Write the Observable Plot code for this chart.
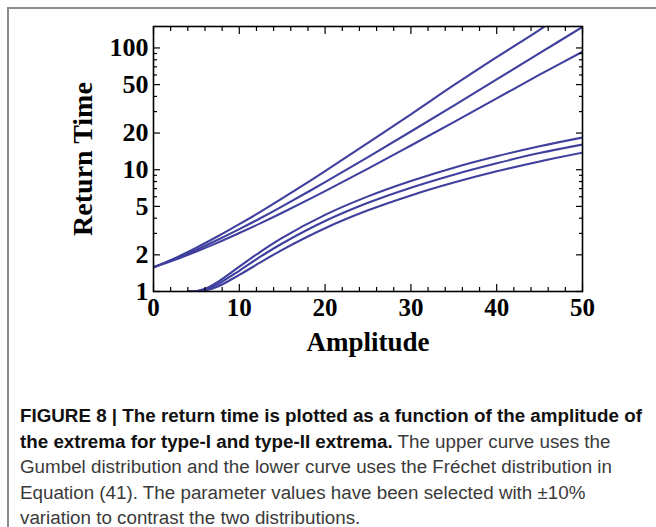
<!DOCTYPE html>
<html>
<head>
<meta charset="utf-8">
<script src="https://cdn.jsdelivr.net/npm/d3@7"></script>
<script src="https://cdn.jsdelivr.net/npm/@observablehq/plot@0.6"></script>
<style>
  html, body { margin: 0; padding: 0; background: #fff; }
  body { width: 656px; height: 527px; overflow: hidden; position: relative; }
  #panel { position: absolute; left: 7px; top: 7px; right: 0; bottom: 0;
           border-top: 2px solid #8c8c8c; border-left: 2px solid #8c8c8c; }
  #chart { position: absolute; left: 0; top: 0; }
  #caption { position: absolute; left: 20px; top: 403px; width: 636px;
             font-family: "Liberation Sans", Arial, sans-serif;
             font-size: 18.8px; line-height: 25.5px; color: #3a3a3a; white-space: nowrap; }
  #caption b { color: #111; }
</style>
</head>
<body>
<div id="panel"></div>
<div id="chart"></div>
<div id="caption"><b>FIGURE 8 | The return time is plotted as a function of the amplitude of<br>the extrema for type-I and type-II extrema.</b> The upper curve uses the<br>Gumbel distribution and the lower curve uses the Fréchet distribution in<br>Equation (41). The parameter values have been selected with ±10%<br>variation to contrast the two distributions.</div>
<script>
// Amplitude samples for the Gumbel (type-I) curves
const amplitude = [0, 2.5, 5, 7.5, 10, 12.5, 15, 20, 25, 30, 35, 40, 45, 50];
// Gumbel return times: scale −10%, nominal, +10% (the first leaves the frame past 45)
const gumbelNarrow = [1.58, 1.88, 2.29, 2.84, 3.57, 4.53, 5.81, 9.74, 16.6, 28.5, 49.4, 84, 141, 245];
const gumbelNominal = [1.58, 1.85, 2.20, 2.66, 3.25, 4.01, 5.00, 7.90, 12.7, 20.6, 33.6, 55.1, 90.5, 149];
const gumbelWide = [1.58, 1.82, 2.13, 2.52, 3.02, 3.64, 4.43, 6.68, 10.2, 15.8, 24.6, 38.5, 60.3, 93];

// Amplitude samples for the Fréchet (type-II) curves
const frechetAmplitude = [4, 5, 6, 7.5, 10, 12.5, 15, 20, 25, 30, 35, 40, 45, 50];
// Fréchet return times: scale −10%, nominal, +10%
const frechetNarrow = [1.0, 1.009, 1.054, 1.20, 1.60, 2.13, 2.76, 4.26, 6.04, 8.08, 10.4, 12.9, 15.6, 18.4];
const frechetNominal = [1.0, 1.005, 1.034, 1.15, 1.48, 1.94, 2.48, 3.79, 5.35, 7.12, 9.11, 11.3, 13.7, 16.1];
const frechetWide = [1.0, 1.002, 1.019, 1.10, 1.37, 1.74, 2.20, 3.31, 4.64, 6.15, 7.84, 9.70, 11.7, 13.8];

// Axis ticks
const xMajor = [0, 10, 20, 30, 40, 50];
const xMinor = [2, 4, 6, 8, 12, 14, 16, 18, 22, 24, 26, 28, 32, 34, 36, 38, 42, 44, 46, 48];
const yMajor = [1, 2, 5, 10, 20, 50, 100];
const yMinor = [3, 4, 6, 7, 8, 9, 30, 40, 60, 70, 80, 90];

const series = [
  ["Gumbel −10%", amplitude, gumbelNarrow],
  ["Gumbel", amplitude, gumbelNominal],
  ["Gumbel +10%", amplitude, gumbelWide],
  ["Fréchet −10%", frechetAmplitude, frechetNarrow],
  ["Fréchet", frechetAmplitude, frechetNominal],
  ["Fréchet +10%", frechetAmplitude, frechetWide]
];
const rows = series.flatMap(([name, xs, ys]) => xs.map((x, i) => ({name, x, y: ys[i]})));

const curveColor = "#3f3f9e";
const serif = "'Liberation Serif', 'Times New Roman', serif";

// Inward-pointing frame ticks for one side
function ticksX(anchor, values, size) {
  return Plot.axisX({anchor, ticks: values, tickSize: -size, tickFormat: () => "", label: null, strokeWidth: 1.2});
}
function ticksY(anchor, values, size) {
  return Plot.axisY({anchor, ticks: values, tickSize: -size, tickFormat: () => "", label: null, strokeWidth: 1.2});
}

const chart = Plot.plot({
  width: 656,
  height: 370,
  marginLeft: 153,
  marginRight: 74,
  marginTop: 26,
  marginBottom: 79,
  x: {domain: [0, 50]},
  y: {type: "log", domain: [1, 150]},
  style: {fontFamily: serif, background: "transparent", color: "#000"},
  marks: [
    Plot.line(rows, {
      x: "x", y: "y", z: "name",
      stroke: curveColor, strokeWidth: 2.1, curve: "catmull-rom", clip: true
    }),
    ticksX("bottom", xMajor, 7), ticksX("bottom", xMinor, 4),
    ticksX("top", xMajor, 7), ticksX("top", xMinor, 4),
    ticksY("left", yMajor, 7), ticksY("left", yMinor, 4),
    ticksY("right", yMajor, 7), ticksY("right", yMinor, 4),
    Plot.axisX({anchor: "bottom", ticks: xMajor, tickSize: 0, tickPadding: 7,
      tickFormat: d => String(d), fontSize: 25, fontWeight: "bold", label: null}),
    Plot.axisY({anchor: "left", ticks: yMajor, tickSize: 0, tickPadding: 5,
      tickFormat: d => String(d), fontSize: 26, fontWeight: "bold", label: null}),
    Plot.frame({stroke: "#000", strokeWidth: 1.6}),
    Plot.text(["Amplitude"], {frameAnchor: "bottom", dy: 40, lineAnchor: "top",
      fontSize: 27, fontWeight: "bold"}),
    Plot.text(["Return Time"], {frameAnchor: "left", dx: -70, rotate: -90,
      textAnchor: "middle", fontSize: 28, fontWeight: "bold"})
  ]
});
document.getElementById("chart").appendChild(chart);
</script>
</body>
</html>
